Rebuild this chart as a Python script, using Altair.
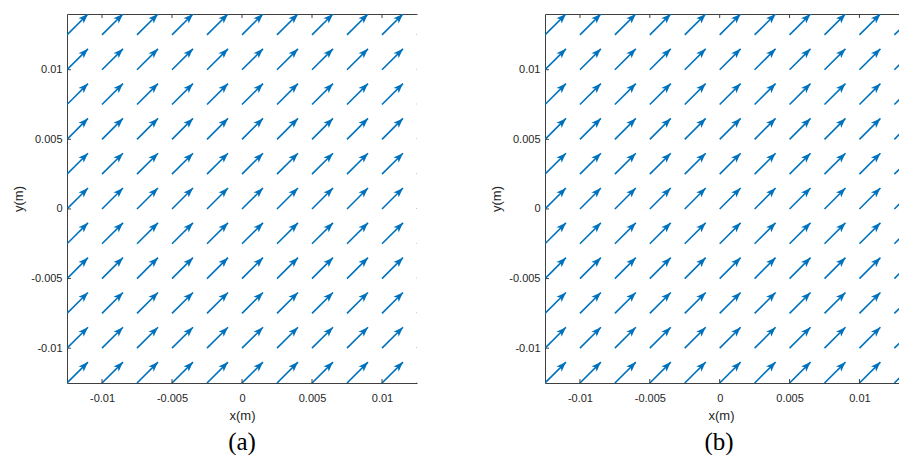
import altair as alt
import pandas as pd

# ---- data ----
x_grid = [-0.0125, -0.01, -0.0075, -0.005, -0.0025, 0.0, 0.0025, 0.005, 0.0075, 0.01, 0.0125]
y_grid = [-0.0125, -0.01, -0.0075, -0.005, -0.0025, 0.0, 0.0025, 0.005, 0.0075, 0.01, 0.0125]
u_a, v_a = 0.0015, 0.0015   # arrow components, panel (a)
u_b, v_b = 0.0015, 0.0015   # arrow components, panel (b)
tick_values = [-0.01, -0.005, 0, 0.005, 0.01]
captions = ["(a)", "(b)"]
x_domain_a = [-0.0125, 0.0125]
x_domain_b = [-0.0125, 0.01283]
y_domain = [-0.0125, 0.014]

COLOR = "#0072BD"
AXC = "#404040"
TXT = "#262626"
HEAD = "M0,0 L0.6,1.6 L0,1.2 L-0.6,1.6 Z"
H = 369
FONT = "Liberation Sans"


def panel(u, v, xdom, width, caption, cap_dx, xtitle_x):
    rows = [(x, y) for y in y_grid for x in x_grid]
    df = pd.DataFrame(rows, columns=["x", "y"])
    df["xe"] = df["x"] + u
    df["ye"] = df["y"] + v
    base = alt.Chart(df)
    xs = alt.Scale(domain=xdom, nice=False, zero=False)
    ys = alt.Scale(domain=y_domain, nice=False, zero=False)

    shafts = base.mark_rule(color=COLOR, strokeWidth=1.6, clip=True).encode(
        x=alt.X("x:Q", scale=xs, axis=alt.Axis(
            orient="bottom", values=tick_values, title="x(m)", ticks=False,
            labelExpr="toString(datum.value)", labelPadding=9, titlePadding=6,
            titleX=xtitle_x, grid=False)),
        y=alt.Y("y:Q", scale=ys, axis=alt.Axis(
            orient="left", values=tick_values, title="y(m)", ticks=False,
            labelExpr="toString(datum.value)", labelPadding=5, titleX=-42,
            grid=False)),
        x2="xe:Q",
        y2="ye:Q",
    )
    heads = base.mark_point(shape=HEAD, filled=True, size=150, angle=45,
                            color=COLOR, opacity=1, clip=True).encode(
        x=alt.X("xe:Q", scale=xs, axis=alt.Axis(
            orient="top", labels=False, ticks=False, title=None, grid=False)),
        y=alt.Y("ye:Q", scale=ys, axis=None),
    )
    tdf = pd.DataFrame({"t": tick_values})
    tb = alt.Chart(tdf)
    bottom_ticks = tb.mark_rule(color=AXC, strokeWidth=1).encode(
        x=alt.X("t:Q", scale=xs, axis=None), y=alt.value(H), y2=alt.value(H - 4))
    top_ticks = tb.mark_rule(color=AXC, strokeWidth=1).encode(
        x=alt.X("t:Q", scale=xs, axis=None), y=alt.value(0), y2=alt.value(4))
    left_ticks = tb.mark_rule(color=AXC, strokeWidth=1).encode(
        y=alt.Y("t:Q", scale=ys, axis=None), x=alt.value(0), x2=alt.value(4))

    return alt.layer(shafts, heads, bottom_ticks, top_ticks, left_ticks).resolve_axis(
        x="independent", y="independent"
    ).properties(
        width=width, height=H,
        title=alt.TitleParams(caption, orient="bottom", frame="group",
                              font="Liberation Serif", fontSize=25,
                              fontWeight="normal", color="#000000",
                              dx=cap_dx, offset=8),
    )


pa = panel(u_a, v_a, x_domain_a, 350, captions[0], 0, 175)
pb = panel(u_b, v_b, x_domain_b, 354, captions[1], -3, 176)

chart = alt.hconcat(pa, pb, spacing=128, bounds="flush").properties(
    padding={"left": 4, "top": 5, "right": 0, "bottom": 0}
).configure_view(stroke=None).configure_axis(
    domainColor=AXC, domainWidth=1, labelFont=FONT, labelFontSize=11,
    labelColor=TXT, titleFont=FONT, titleFontSize=13, titleFontWeight="normal",
    titleColor=TXT,
)

chart.save("out.html", embed_options={"renderer": "svg", "actions": False})
